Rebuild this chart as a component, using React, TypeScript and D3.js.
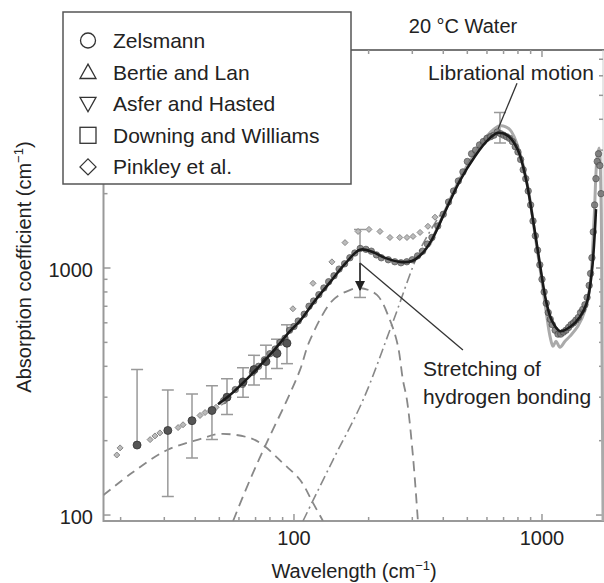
import React from 'react';
import * as d3 from 'd3';

const W = 604;
const H = 583;

// Fitted total absorption (black solid)
const fitWavenumber = [49.4, 55.2, 66.5, 82.3, 96.4, 105.7, 121.6, 139.7, 160.6, 184.6, 206.5, 233, 267, 299, 328, 360, 406, 467, 537, 606, 665, 730, 800, 861, 919, 982, 1038, 1097, 1182, 1297, 1422, 1518, 1591, 1651];
const fitAbsorption = [281, 306, 366, 460, 555, 611, 738, 875, 1039, 1186, 1164, 1099, 1059, 1068, 1142, 1304, 1684, 2259, 2837, 3303, 3526, 3428, 3002, 2302, 1577, 1029, 738, 611, 555, 577, 634, 725, 981, 1732];

// Second measurement (light grey line)
const greyWavenumber = [353, 406, 467, 537, 617, 677, 743, 815, 879, 937, 991, 1038, 1077, 1108, 1139, 1182, 1238, 1297, 1397, 1490, 1562, 1622, 1667, 1699, 1730, 1746, 1763];
const greyAbsorption = [1244, 1698, 2302, 2917, 3526, 3765, 3627, 2917, 2094, 1367, 936, 672, 530, 482, 505, 478, 505, 530, 582, 672, 851, 1577, 2781, 3060, 1905, 460, 92];

// Dense measured points (Bertie and Lan / Asfer and Hasted / Downing and Williams)
const bandWavenumber = [52, 58, 62, 68, 72, 76, 80, 84, 88, 92, 96, 100, 104, 110, 115, 120, 126, 132, 138, 145, 152, 160, 168, 176, 185, 195, 205, 215, 225, 240, 255, 270, 285, 300, 315, 330, 345, 360, 380, 400, 420, 440, 460, 480, 500, 520, 540, 560, 580, 600, 620, 640, 660, 680, 700, 720, 740, 760, 780, 800, 820, 840, 860, 880, 900, 920, 940, 960, 980, 1000, 1020, 1040, 1060, 1080, 1100, 1130, 1160, 1190, 1220, 1250, 1280, 1310, 1340, 1370, 1400, 1430, 1460, 1490, 1520, 1550, 1570, 1590, 1610, 1630, 1650, 1670, 1690, 1710, 1730];
const bandAbsorption = [290, 322, 338, 378, 400, 425, 450, 470, 500, 520, 560, 580, 610, 650, 700, 735, 780, 830, 880, 930, 990, 1040, 1100, 1150, 1200, 1190, 1170, 1130, 1100, 1080, 1060, 1050, 1060, 1080, 1120, 1170, 1250, 1330, 1480, 1650, 1850, 2050, 2250, 2450, 2700, 2900, 3000, 3150, 3250, 3350, 3400, 3450, 3550, 3500, 3450, 3400, 3350, 3250, 3100, 2950, 2750, 2500, 2300, 2050, 1800, 1550, 1350, 1180, 1030, 900, 800, 720, 660, 620, 590, 560, 540, 540, 550, 560, 575, 590, 600, 615, 630, 660, 680, 710, 760, 850, 950, 1100, 1400, 1800, 2300, 2700, 2900, 2600, 2000];

// Pinkley et al. (grey diamonds)
const pinkleyWavenumber = [19.3, 19.9, 26.3, 27.5, 28.8, 34.1, 35.7, 41.8, 43.8, 48.5, 51.1, 99, 119.3, 142.2, 160.6, 181.3, 200.6, 222.2, 243.8, 267, 285.5, 302, 322.3, 346.8, 370.3];
const pinkleyAbsorption = [175, 187, 202, 209, 215, 226, 232, 253, 260, 273, 286, 684, 867, 1059, 1267, 1406, 1433, 1406, 1329, 1329, 1329, 1342, 1393, 1475, 1606];

// Zelsmann with error bars
const zelsWavenumber = [23.3, 31.0, 38.8, 46.7, 53.7, 62.3, 69.0, 77.1, 85.4, 93.7];
const zelsAbsorption = [192, 220, 241, 265, 300, 346, 388, 418, 451, 496];
const errWavenumber = [23.3, 31.0, 38.8, 46.7, 53.7, 62.3, 69.0, 77.1, 85.4, 93.7, 184.6, 677];
const errUpper = [388, 321, 309, 334, 356, 395, 443, 487, 515, 589, 1433, 4266];
const errLower = [192, 119, 170, 202, 255, 300, 336, 356, 392, 410, 760, 3206];

// Band components (dashed)
const lowWavenumber = [17.06, 22.4, 30.7, 41.8, 50.3, 66.5, 75.0, 90.3, 105.7, 119.3, 130.9];
const lowAbsorption = [120.5, 149, 183, 203, 213, 205, 192, 162, 139, 112, 94.6];
const hbWavenumber = [56.8, 66.5, 78.5, 93.7, 105.7, 116, 143.6, 168, 184.6, 216, 243.8, 262, 275, 285.5, 302, 316];
const hbAbsorption = [94.6, 139, 201, 292, 386, 511, 742, 814, 830, 778, 615, 488, 352, 292, 172, 94.6];
const libWavenumber = [108.7, 143.6, 189.8, 248, 322, 388];
const libAbsorption = [94.6, 167, 292, 588, 1183, 1639];

const xMajor = [100, 1000];
const xMinor = [20, 30, 40, 50, 60, 70, 80, 90, 200, 300, 400, 500, 600, 700, 800, 900];
const yMajor = [100, 1000];
const yMinor = [200, 300, 400, 500, 600, 700, 800, 900, 2000, 3000, 4000, 5000, 6000, 7000];

const legendLabels = ['Zelsmann', 'Bertie and Lan', 'Asfer and Hasted', 'Downing and Williams', 'Pinkley et al.'];
const legendSymbols = ['circle', 'up', 'down', 'square', 'diamond'];

const FONT = "'Liberation Sans', Arial, Helvetica, sans-serif";

function zip(a: number[], b: number[]): [number, number][] {
  return a.map((v, i) => [v, b[i]]);
}

function Symbol({ kind, cx, cy }: { kind: string; cx: number; cy: number }) {
  const s = 8;
  const st = { fill: 'none', stroke: '#333', strokeWidth: 1.3 };
  if (kind === 'circle') return <circle cx={cx} cy={cy} r={7.5} {...st} />;
  if (kind === 'up') return <path d={`M${cx},${cy - s}L${cx + s},${cy + s * 0.8}L${cx - s},${cy + s * 0.8}Z`} {...st} />;
  if (kind === 'down') return <path d={`M${cx},${cy + s}L${cx + s},${cy - s * 0.8}L${cx - s},${cy - s * 0.8}Z`} {...st} />;
  if (kind === 'square') return <rect x={cx - 8} y={cy - 8} width={16} height={16} {...st} />;
  return <path d={`M${cx},${cy - s}L${cx + s},${cy}L${cx},${cy + s}L${cx - s},${cy}Z`} {...st} />;
}

export default function App() {
  const x = d3.scaleLog().domain([17.06, 1762]).range([103.5, 603]);
  const y = d3.scaleLog().domain([94.6, 7630]).range([521, 50]);
  const line = d3
    .line<[number, number]>()
    .x((d) => x(d[0]))
    .y((d) => y(d[1]))
    .curve(d3.curveCatmullRom.alpha(0.5));

  const left = 103.5, right = 603, top = 50, bottom = 521;

  return (
    <svg width={W} height={H} style={{ position: 'absolute', left: 0, top: 0, background: '#fff' }} fontFamily={FONT}>
      <defs>
        <clipPath id="plot">
          <rect x={left} y={top} width={right - left + 2} height={bottom - top} />
        </clipPath>
        <marker id="arr" viewBox="0 0 10 10" refX="9" refY="5" markerWidth="7" markerHeight="7" orient="auto">
          <path d="M0,0L10,5L0,10Z" fill="#222" />
        </marker>
      </defs>
      <rect x={0} y={0} width={W} height={H} fill="#fff" />

      {/* axes */}
      <g stroke="#999" strokeWidth={2} fill="none">
        <line x1={left} y1={top} x2={left} y2={bottom + 1} />
        <line x1={left} y1={bottom} x2={W} y2={bottom} />
        <line x1={left} y1={top} x2={W} y2={top} stroke="#777" />
        <line x1={right} y1={top} x2={right} y2={bottom} stroke="#ccc" strokeWidth={1} />
      </g>
      <g stroke="#999" strokeWidth={1.5}>
        {xMajor.map((v) => (
          <g key={'xM' + v}>
            <line x1={x(v)} x2={x(v)} y1={bottom} y2={bottom - 7} />
            <line x1={x(v)} x2={x(v)} y1={top} y2={top + 7} />
          </g>
        ))}
        {xMinor.map((v) => (
          <g key={'xm' + v}>
            <line x1={x(v)} x2={x(v)} y1={bottom} y2={bottom - 4} />
            <line x1={x(v)} x2={x(v)} y1={top} y2={top + 4} />
          </g>
        ))}
        {yMajor.map((v) => (
          <g key={'yM' + v}>
            <line x1={left} x2={left + 7} y1={y(v)} y2={y(v)} />
            <line x1={right} x2={right - 7} y1={y(v)} y2={y(v)} />
          </g>
        ))}
        {yMinor.map((v) => (
          <g key={'ym' + v}>
            <line x1={left} x2={left + 4} y1={y(v)} y2={y(v)} />
            <line x1={right} x2={right - 4} y1={y(v)} y2={y(v)} />
          </g>
        ))}
      </g>

      <g clipPath="url(#plot)">
        {/* component bands */}
        <path d={line(zip(lowWavenumber, lowAbsorption)) || ''} fill="none" stroke="#888" strokeWidth={1.8} strokeDasharray="9,6" />
        <path d={line(zip(hbWavenumber, hbAbsorption)) || ''} fill="none" stroke="#888" strokeWidth={1.8} strokeDasharray="10,6" />
        <path d={line(zip(libWavenumber, libAbsorption)) || ''} fill="none" stroke="#888" strokeWidth={1.6} strokeDasharray="10,4,2,4" />

        {/* error bars */}
        <g stroke="#999" strokeWidth={1.5}>
          {errWavenumber.map((v, i) => (
            <g key={'e' + i}>
              <line x1={x(v)} x2={x(v)} y1={y(errUpper[i])} y2={y(errLower[i])} />
              <line x1={x(v) - 6} x2={x(v) + 6} y1={y(errUpper[i])} y2={y(errUpper[i])} />
              {errLower[i] !== zelsAbsorption[i] && (
                <line x1={x(v) - 6} x2={x(v) + 6} y1={y(errLower[i])} y2={y(errLower[i])} />
              )}
            </g>
          ))}
        </g>

        {/* grey measurement line */}
        <path d={line(zip(greyWavenumber, greyAbsorption)) || ''} fill="none" stroke="#aaa" strokeWidth={3} />

        {/* dense markers */}
        {bandWavenumber.map((v, i) => (
          <circle key={'b' + i} cx={x(v)} cy={y(bandAbsorption[i])} r={3.2} fill="#777" stroke="#444" strokeWidth={0.8} opacity={0.85} />
        ))}
        {pinkleyWavenumber.map((v, i) => {
          const cx = x(v), cy = y(pinkleyAbsorption[i]);
          return <path key={'p' + i} d={`M${cx},${cy - 3}L${cx + 3},${cy}L${cx},${cy + 3}L${cx - 3},${cy}Z`} fill="#bbb" stroke="#888" strokeWidth={1} />;
        })}
        {zelsWavenumber.map((v, i) => (
          <circle key={'z' + i} cx={x(v)} cy={y(zelsAbsorption[i])} r={4} fill="#555" stroke="#333" strokeWidth={0.8} />
        ))}

        {/* fitted curve */}
        <path d={line(zip(fitWavenumber, fitAbsorption)) || ''} fill="none" stroke="#1a1a1a" strokeWidth={2.6} />
      </g>

      {/* annotations */}
      <line x1={x(793)} y1={y(5600)} x2={x(665)} y2={y(3650)} stroke="#333" strokeWidth={1.3} />
      <text x={511} y={72} textAnchor="middle" dominantBaseline="central" fontSize={21} fill="#222">Librational motion</text>
      <line x1={x(184.6)} y1={y(1047)} x2={x(184.6)} y2={y(815)} stroke="#222" strokeWidth={1.5} markerEnd="url(#arr)" />
      <line x1={x(184.6)} y1={y(1047)} x2={x(480)} y2={y(466)} stroke="#333" strokeWidth={1.3} />
      <text x={423} y={368} dominantBaseline="central" fontSize={21} fill="#222">Stretching of</text>
      <text x={423} y={396} dominantBaseline="central" fontSize={21} fill="#222">hydrogen bonding</text>

      <text x={463} y={26} textAnchor="middle" dominantBaseline="central" fontSize={20} fill="#222">20 °C Water</text>

      {/* legend */}
      <rect x={63} y={12} width={288} height={172} fill="#fff" stroke="#555" strokeWidth={1.5} />
      {legendLabels.map((lab, i) => {
        const cy = 40.5 + i * 31.6;
        return (
          <g key={lab}>
            <Symbol kind={legendSymbols[i]} cx={88} cy={cy} />
            <text x={113} y={cy} dominantBaseline="central" fontSize={21} fill="#222">{lab}</text>
          </g>
        );
      })}

      {/* tick labels */}
      {yMajor.map((v) => (
        <text key={'yl' + v} x={93} y={y(v) + 2} textAnchor="end" dominantBaseline="central" fontSize={20} fill="#222">{v}</text>
      ))}
      {xMajor.map((v) => (
        <text key={'xl' + v} x={x(v)} y={545} textAnchor="middle" fontSize={20} fill="#222">{v}</text>
      ))}

      {/* axis titles */}
      <text x={354} y={578} textAnchor="middle" fontSize={20} fill="#222">
        Wavelength (cm<tspan dy={-8} fontSize={13}>−1</tspan><tspan dy={8}>)</tspan>
      </text>
      <text transform="translate(31,267) rotate(-90)" textAnchor="middle" fontSize={20} fill="#222">
        Absorption coefficient (cm<tspan dy={-8} fontSize={13}>−1</tspan><tspan dy={8}>)</tspan>
      </text>
    </svg>
  );
}
